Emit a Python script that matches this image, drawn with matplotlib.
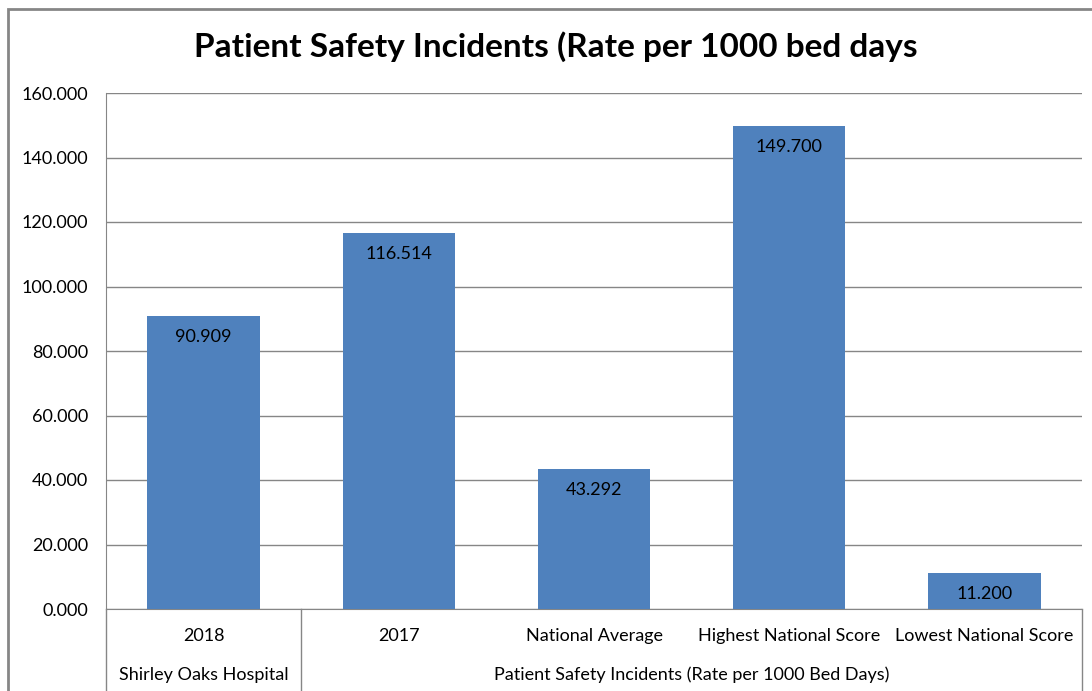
import matplotlib.pyplot as plt
from matplotlib.lines import Line2D
from matplotlib.patches import Rectangle
from matplotlib.ticker import FormatStrFormatter

# Du lieu doc tu bieu do.
categories = ['2018', '2017', 'National Average', 'Highest National Score', 'Lowest National Score']
values = [90.909, 116.514, 43.292, 149.700, 11.200]
groups = ['Shirley Oaks Hospital', 'Patient Safety Incidents (Rate per 1000 Bed Days)']
group_sizes = [1, 4]
title = 'Patient Safety Incidents (Rate per 1000 bed days'

plt.rcParams['font.family'] = ['Lato', 'DejaVu Sans']
grey = '#868686'

fig = plt.figure(figsize=(10.92, 6.91), dpi=100)
ax = fig.add_axes([106 / 1092, 1 - 609 / 691, 976 / 1092, 516 / 691])

# Khung ngoai cua bieu do.
fig.patches.append(Rectangle((8 / 1092, -0.1), 1.2, 1 - 9 / 691 + 0.1, transform=fig.transFigure,
                             fill=False, edgecolor=grey, linewidth=2))

x = range(len(categories))
bars = ax.bar(x, values, width=0.575, color='#4F81BD', zorder=3)
for b, v in zip(bars, values):
    ax.annotate(f'{v:.3f}', (b.get_x() + b.get_width() / 2, v), xytext=(0, -21),
                textcoords='offset pixels',
                ha='center', va='center', fontsize=13, color='black', zorder=4)

ax.set_xlim(-0.5, len(categories) - 0.5)
ax.set_ylim(0, 160)
ax.set_yticks(range(0, 161, 20))
ax.yaxis.set_major_formatter(FormatStrFormatter('%.3f'))
ax.tick_params(axis='y', length=0, labelsize=13, pad=13)
ax.set_xticks([])
ax.grid(axis='y', color=grey, linewidth=1, zorder=0)
for s in ['top', 'right']:
    ax.spines[s].set_visible(False)
ax.spines['left'].set_color(grey)
ax.spines['bottom'].set_color(grey)

# Nhan truc x hai cap.
ybot = -(690 - 609) / 516
for i, c in enumerate(categories):
    ax.text(i, -(636 - 609) / 516, c, transform=ax.get_xaxis_transform(),
            ha='center', va='center', fontsize=13)
start = 0
bounds = [-0.5]
for g, n in zip(groups, group_sizes):
    ax.text(start + (n - 1) / 2, -(675 - 609) / 516, g, transform=ax.get_xaxis_transform(),
            ha='center', va='center', fontsize=13)
    start += n
    bounds.append(start - 0.5)
for bx in bounds:
    ax.add_line(Line2D([bx, bx], [0, ybot], transform=ax.get_xaxis_transform(),
                       color=grey, linewidth=1, clip_on=False))

fig.text(556 / 1092, 1 - 47 / 691, title, ha='center', va='center', fontsize=24, fontweight='bold')

fig.savefig('out.png', dpi=100)
